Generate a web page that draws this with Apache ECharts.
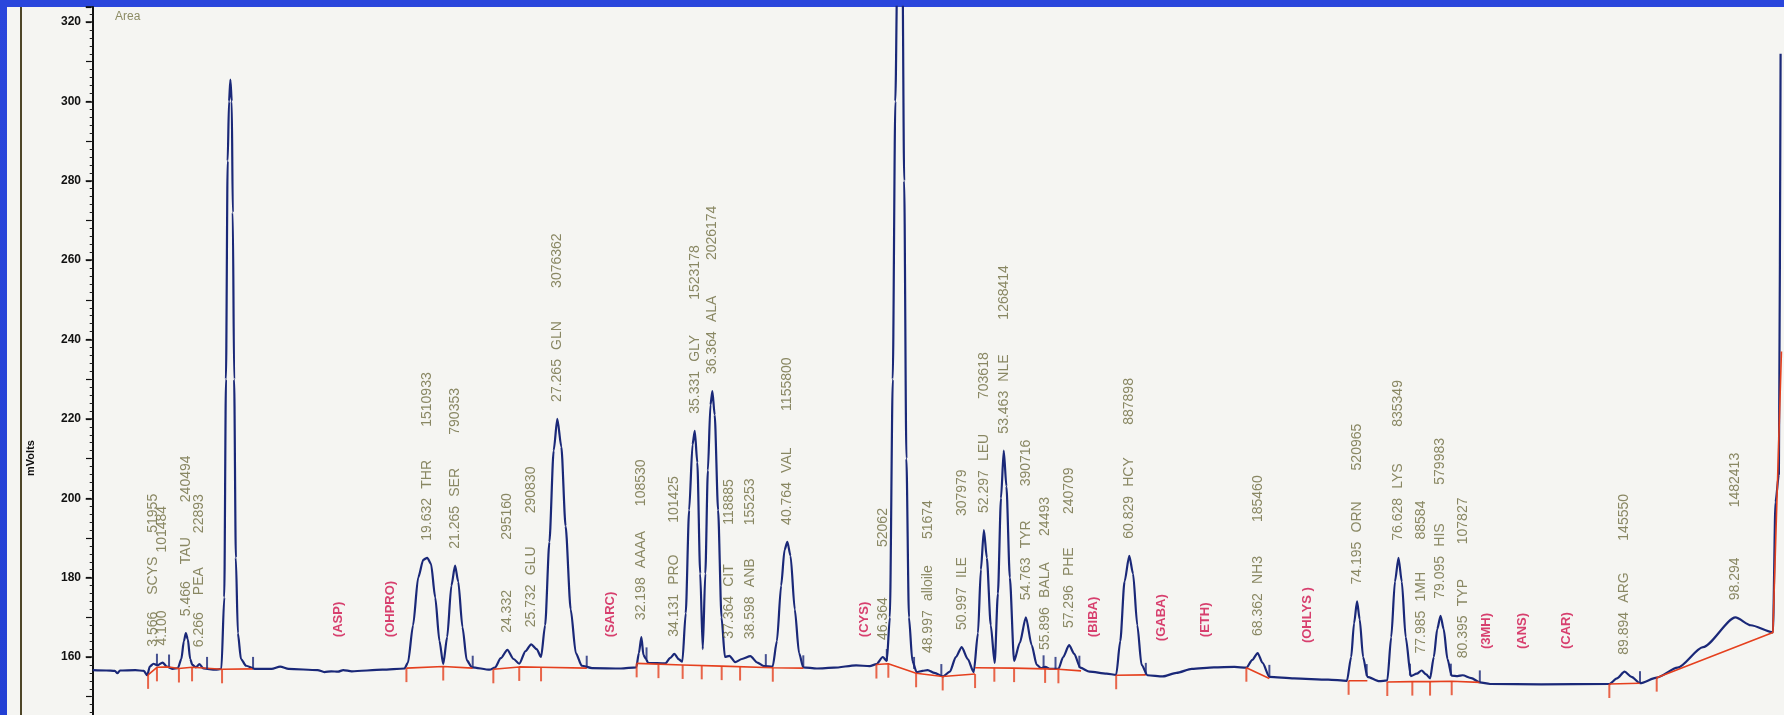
<!DOCTYPE html>
<html>
<head>
<meta charset="utf-8">
<script src="https://cdn.jsdelivr.net/npm/echarts@6/dist/echarts.min.js"></script>
<style>
  html, body { margin: 0; padding: 0; background: #2b44d9; overflow: hidden; }
  #page { position: relative; width: 1784px; height: 715px; background: linear-gradient(180deg, #2a46dc 0%, #2340d4 100%); }
  #paper { position: absolute; left: 7px; top: 7px; width: 1777px; height: 708px; background: #f5f5f2; }
  #chart { position: absolute; left: 0; top: 0; width: 1784px; height: 715px; }
</style>
</head>
<body>
<div id="page"><div id="paper"></div><div id="chart"></div></div>
<script>
// Amino acid chromatogram: retention time (min) vs detector signal (mVolts)

// Detector trace [time, mV]
const trace = [
  [0, 156.7], [0.8, 156.6], [1.3, 156.5], [1.45, 155.9], [1.6, 156.6], [2.5, 156.7], [3.0, 156.5],
  [3.2, 155.4], [3.35, 157.6], [3.566, 158.3], [3.8, 157.9], [4.1, 158.6], [4.35, 157.6], [4.7, 157.0], [5.0, 157.2],
  [5.2, 159.5], [5.35, 164], [5.466, 166], [5.58, 164.5], [5.72, 159.5], [5.85, 158], [6.05, 157.4], [6.266, 158.2],
  [6.5, 157.1], [7.2, 156.8], [7.55, 157.0],
  [7.72, 175], [7.82, 230], [7.92, 285], [8.0, 300], [8.08, 305.5], [8.16, 300], [8.22, 272], [8.3, 230],
  [8.4, 185], [8.52, 166], [8.7, 159.5], [9.0, 157.8], [9.5, 157.0],
  [10.5, 157.0], [11.0, 157.6], [11.5, 157.0], [13.2, 156.7], [13.6, 156.2], [14.0, 156.4], [14.4, 156.3],
  [14.7, 156.7], [15.2, 156.4], [17.0, 156.8], [18.3, 157.1],
  [18.5, 158.6], [18.8, 168], [19.1, 180], [19.4, 184.5], [19.632, 185], [19.85, 183.5], [20.1, 175],
  [20.35, 164], [20.57, 158.2],
  [20.8, 165], [21.05, 178], [21.265, 183], [21.45, 179], [21.7, 167.5], [21.95, 159.2], [22.25, 157.4], [23.3, 156.8],
  [23.6, 157.3], [23.95, 159.7], [24.332, 161.8], [24.7, 159.5], [25.03, 158.3], [25.4, 161.5], [25.732, 163.2],
  [26.05, 162], [26.31, 160],
  [26.55, 168], [26.8, 189], [27.05, 212], [27.265, 220], [27.5, 213], [27.75, 193], [28.05, 172], [28.35, 161],
  [28.7, 157.8], [29.3, 157.2], [31.0, 157.1], [31.9, 157.4],
  [32.05, 161], [32.198, 165], [32.32, 160.5], [32.45, 159.6], [32.6, 158.5], [33.6, 158.4], [33.9, 159.8],
  [34.131, 160.8], [34.4, 159.4], [34.6, 158.8],
  [34.8, 171], [35.0, 197], [35.2, 213.5], [35.331, 217], [35.48, 209], [35.65, 181], [35.8, 162],
  [35.95, 181], [36.1, 207], [36.25, 223.5], [36.364, 227], [36.5, 221], [36.7, 197], [36.9, 170], [37.1, 160],
  [37.364, 160.3], [37.7, 158.7], [38.1, 159.5], [38.598, 160.2], [39.0, 158.6], [39.4, 157.7], [39.9, 157.6],
  [40.15, 164], [40.4, 178], [40.6, 187], [40.764, 189], [40.95, 185.5], [41.2, 172], [41.45, 161], [41.7, 157.4],
  [42.5, 157.1], [43.5, 157.3], [44.8, 157.9], [45.6, 157.7], [45.99, 158.2], [46.364, 160], [46.6, 159],
  [46.78, 170], [46.95, 230], [47.1, 300], [47.25, 345], [47.5, 345], [47.62, 280], [47.75, 210], [47.9, 170],
  [48.1, 159], [48.35, 156.2], [48.7, 156.5], [48.997, 156.7], [49.4, 156.0], [49.9, 155.1],
  [50.3, 156.3], [50.65, 160], [50.997, 162.5], [51.35, 159.5], [51.7, 156.2],
  [51.95, 166], [52.12, 182], [52.297, 192], [52.47, 185], [52.7, 168], [52.93, 158.5],
  [53.12, 176], [53.3, 200], [53.463, 212], [53.62, 203], [53.82, 180], [54.07, 159],
  [54.4, 163.5], [54.763, 170], [55.1, 163], [55.4, 158], [55.65, 157.2], [55.896, 157.5], [56.2, 157.0], [56.67, 157.0],
  [56.95, 160], [57.296, 163], [57.6, 160.8], [57.95, 157.3], [58.5, 156.3], [59.5, 155.8], [60.06, 155.5],
  [60.3, 164], [60.55, 179], [60.829, 185.5], [61.05, 181], [61.3, 168], [61.55, 158], [61.9, 155.4],
  [62.8, 155.1], [63.6, 156.0], [64.5, 157.0], [65.8, 157.4], [67.0, 157.5], [67.7, 157.3],
  [68.05, 159.3], [68.362, 161], [68.65, 158.5], [69.05, 155.0], [70.5, 154.6], [72.5, 154.3], [73.6, 154.0],
  [73.85, 160], [74.02, 168.5], [74.195, 174], [74.35, 169.5], [74.55, 160], [74.8, 155], [75.5, 153.9], [75.97, 154.1],
  [76.2, 165], [76.42, 179], [76.628, 185], [76.82, 179], [77.05, 165], [77.35, 155.2],
  [77.7, 155.8], [77.985, 156.6], [78.25, 155.6], [78.48, 154.6],
  [78.7, 160], [78.9, 167], [79.095, 170.4], [79.28, 167], [79.5, 159.5], [79.75, 155.3],
  [80.1, 155.2], [80.395, 155.4], [80.9, 154.7], [81.4, 153.6], [82.0, 153.2], [85.0, 153.1], [89.0, 153.2],
  [89.45, 154.6], [89.894, 156.3], [90.3, 155.0], [90.8, 153.4], [91.78, 154.8],
  [93.0, 157.3], [94.5, 162.5], [96.4, 170], [97.3, 168], [98.6, 166.2], [98.75, 199], [98.95, 206], [99.05, 312]
];

// Integration baselines [time, mV]
const baselineSegments = [
  [[3.25, 155.5], [3.77, 157.4], [4.48, 157.5], [5.06, 157.1], [5.83, 157.4], [7.59, 156.9], [9.4, 157.0]],
  [[18.41, 157.2], [20.57, 157.6], [22.3, 157.2]],
  [[23.51, 156.9], [25.03, 157.5], [26.31, 157.4], [29.0, 157.2]],
  [[31.92, 158.4], [34.62, 158.0], [36.91, 157.7], [39.91, 157.3], [41.7, 157.2]],
  [[45.99, 158.1], [46.69, 158.3], [48.32, 155.9], [49.88, 155.1], [51.78, 155.7]],
  [[51.78, 157.3], [54.07, 157.2], [55.89, 157.0], [56.67, 156.9], [58.0, 156.5]],
  [[60.06, 155.4], [61.8, 155.5]],
  [[67.7, 157.3], [69.05, 154.6]],
  [[73.7, 154.0], [74.8, 154.0]],
  [[75.97, 153.7], [77.44, 153.8], [78.48, 153.8], [79.75, 153.9], [81.4, 153.6]],
  [[89.0, 153.2], [90.8, 153.4]],
  [[91.78, 154.8], [98.6, 166.2], [99.1, 237]]
];

// Peak start marks (drawn below the baseline)
const startMarks = [
  [3.25, 155.5], [3.77, 157.4], [5.06, 157.1], [5.83, 157.4], [7.59, 156.9], [18.41, 157.2], [20.57, 157.6],
  [23.51, 156.9], [25.03, 157.5], [26.31, 157.4], [31.92, 158.4], [33.2, 158.2], [34.62, 158.0], [35.74, 157.9],
  [36.91, 157.7], [37.99, 157.6], [39.91, 157.3], [45.99, 158.1], [46.69, 158.3], [48.32, 155.9], [49.88, 155.1],
  [51.78, 155.7], [52.91, 157.3], [54.07, 157.2], [55.89, 157.0], [56.67, 156.9], [60.06, 155.4], [67.7, 157.3],
  [73.7, 154.0], [75.97, 153.7], [77.44, 153.8], [78.48, 153.8], [79.75, 153.9], [89.0, 153.2], [91.78, 154.8]
];

// Peak end marks (drawn above the trace)
const endMarks = [
  [3.77, 157.8], [4.48, 157.6], [6.71, 157.0], [9.41, 157.0], [22.3, 157.3], [28.99, 157.3], [32.5, 159.4],
  [39.5, 157.7], [41.7, 157.4], [46.6, 159.0], [48.2, 157.0], [49.8, 155.2], [55.8, 157.4], [56.5, 157.0],
  [57.9, 157.3], [61.8, 155.5], [69.05, 155.0], [74.76, 155.2], [77.3, 155.3], [79.7, 155.3], [81.4, 153.6],
  [90.8, 153.4]
];

// Identified peaks: retention time, name, area, apex height (mV)
const peakTimes = [3.566, 4.100, 5.466, 6.266, 19.632, 21.265, 24.332, 25.732, 27.265, 32.198, 34.131, 35.331,
  36.364, 37.364, 38.598, 40.764, 46.364, 48.997, 50.997, 52.297, 53.463, 54.763, 55.896, 57.296, 60.829,
  68.362, 74.195, 76.628, 77.985, 79.095, 80.395, 89.894, 98.294];
const peakNames = ['SCYS', '', 'TAU', 'PEA', 'THR', 'SER', '', 'GLU', 'GLN', 'AAAA', 'PRO', 'GLY',
  'ALA', 'CIT', 'ANB', 'VAL', '', 'alloile', 'ILE', 'LEU', 'NLE', 'TYR', 'BALA', 'PHE', 'HCY',
  'NH3', 'ORN', 'LYS', '1MH', 'HIS', 'TYP', 'ARG', ''];
const peakAreas = ['51955', '101484', '240494', '22893', '1510933', '790353', '295160', '290830', '3076362',
  '108530', '101425', '1523178', '2026174', '118885', '155253', '1155800', '52062', '51674', '307979',
  '703618', '1268414', '390716', '24493', '240709', '887898', '185460', '520965', '835349', '88584',
  '579983', '107827', '145550', '1482413'];
const apexTimes = [3.566, 4.100, 5.466, 6.266, 19.632, 21.265, 24.332, 25.732, 27.265, 32.198, 34.131, 35.331,
  36.364, 37.364, 38.598, 40.764, 46.364, 48.997, 50.997, 52.297, 53.463, 54.763, 55.896, 57.296, 60.829,
  68.362, 74.195, 76.628, 77.985, 79.095, 80.395, 89.894, 96.4];
const apexHeights = [158.3, 158.6, 166, 158.2, 185, 183, 161.8, 163.2, 220, 165, 160.8, 217,
  227, 160.3, 160.2, 189, 160, 156.7, 162.5, 192, 212, 170, 157.5, 163, 185.5,
  161, 174, 185, 156.6, 170.4, 155.4, 156.3, 170];

// Expected but absent components
const missingNames = ['(ASP)', '(OHPRO)', '(SARC)', '(CYS)', '(BIBA)', '(GABA)', '(ETH)', '(OHLYS )', '(3MH)', '(ANS)', '(CAR)'];
const missingTimes = [14.4, 17.45, 30.4, 45.3, 58.7, 62.7, 65.3, 71.3, 81.8, 83.9, 86.5];
const missingLevel = [165, 165, 165, 165, 165, 164, 165, 163.5, 162, 162, 162];

// Signal axis
const yMin = 140, yMax = 323.8, yStep = 20, yLabelTop = 320;
// Time axis
const tMin = -0.1, tMax = 99.25;

const chart = echarts.init(document.getElementById('chart'), null, { renderer: 'canvas' });

const traceColor = '#1a2878';
const baseColor = '#e5401e';
const labelColor = '#6e6c3e';
const missingColor = '#d0124c';
const labelFont = 'Liberation Sans, Arial, sans-serif';

const series = [];

series.push({
  type: 'line', name: 'signal', data: trace, showSymbol: false, symbol: 'none',
  smooth: 0.25, smoothMonotone: 'x', clip: true, z: 3,
  lineStyle: { color: traceColor, width: 2.2 }
});

baselineSegments.forEach(seg => {
  series.push({
    type: 'line', data: seg, showSymbol: false, symbol: 'none', clip: true, z: 4,
    lineStyle: { color: baseColor, width: 1.6 }
  });
});

series.push({
  type: 'scatter', data: startMarks, symbol: 'rect', symbolSize: [2, 14], symbolOffset: [0, 7], z: 4,
  itemStyle: { color: baseColor }
});
series.push({
  type: 'scatter', data: endMarks, symbol: 'rect', symbolSize: [2, 12], symbolOffset: [0, -6], z: 4,
  itemStyle: { color: traceColor }
});

const richBase = { color: labelColor, fontSize: 14, fontFamily: labelFont };
series.push({
  type: 'scatter', z: 5, symbolSize: 0, silent: true,
  data: peakTimes.map((t, i) => ({
    value: [apexTimes[i], apexHeights[i]],
    time: t.toFixed(3), pname: peakNames[i], area: peakAreas[i]
  })),
  itemStyle: { color: 'transparent' },
  label: {
    show: true, position: 'top', distance: 17, rotate: 90, align: 'left', verticalAlign: 'middle',
    color: labelColor, fontFamily: labelFont, fontSize: 14,
    formatter: p => '{t|' + p.data.time + '}' +
      (p.data.pname ? '{n|' + p.data.pname + '}' : '{g|}') + '{a|' + p.data.area + '}',
    rich: {
      t: Object.assign({ width: 52 }, richBase),
      n: Object.assign({ width: 62 }, richBase),
      g: Object.assign({ width: 41 }, richBase),
      a: Object.assign({}, richBase)
    }
  }
});

series.push({
  type: 'scatter', z: 5, symbolSize: 0, silent: true,
  data: missingNames.map((n, i) => ({ value: [missingTimes[i], missingLevel[i]], name: n })),
  itemStyle: { color: 'transparent' },
  label: {
    show: true, position: 'top', distance: 0, rotate: 90, align: 'left', verticalAlign: 'middle',
    color: missingColor, fontWeight: 'bold', fontSize: 13, fontFamily: labelFont,
    formatter: p => p.name
  }
});

const pxPerUnit = (657 - 22) / (yLabelTop - 160); // 320 at y=22, 160 at y=657
const gridTop = 22 - (yMax - yLabelTop) * pxPerUnit;
const gridHeight = (yMax - yMin) * pxPerUnit;

chart.setOption({
  backgroundColor: 'transparent',
  animation: false,
  grid: { left: 91, right: 0, top: gridTop, bottom: 715 - gridTop - gridHeight, containLabel: false, outerBoundsMode: 'none' },
  xAxis: { type: 'value', min: tMin, max: tMax, show: false },
  yAxis: [
    {
      type: 'value', position: 'left', min: yMin, max: yMax, interval: yStep,
      axisLine: { show: true, lineStyle: { color: '#111', width: 2 } },
      axisTick: { show: true, length: 7, lineStyle: { color: '#111', width: 1.5 } },
      minorTick: { show: true, splitNumber: 10, length: 3, lineStyle: { color: '#222', width: 1 } },
      splitLine: { show: false },
      axisLabel: {
        margin: 10, color: '#111', fontWeight: 'bold', fontSize: 12,
        fontFamily: 'Liberation Sans Narrow, Liberation Sans, Arial, sans-serif',
        showMaxLabel: false, showMinLabel: false,
        formatter: v => (v % yStep === 0 && v <= yLabelTop && v > yMin) ? String(v) : ''
      }
    },
    {
      type: 'value', position: 'left', offset: 0, min: yMin, max: yMax, interval: yStep / 2,
      axisLine: { show: false }, splitLine: { show: false }, axisLabel: { show: false },
      axisTick: { show: true, length: 5, lineStyle: { color: '#111', width: 1.2 } }
    }
  ],
  graphic: [
    { type: 'line', shape: { x1: 21, y1: 7, x2: 21, y2: 715 }, style: { stroke: '#4e4628', lineWidth: 2 }, z: 10 },
    { type: 'text', x: 115, y: 11, style: { text: 'Area', fill: '#8d8c64', font: '12px Liberation Sans, Arial, sans-serif' }, z: 10 },
    { type: 'text', x: 31, y: 458, rotation: Math.PI / 2,
      style: { text: 'mVolts', fill: '#111', font: 'bold 11px Liberation Sans Narrow, Liberation Sans, Arial, sans-serif', align: 'center', verticalAlign: 'middle' }, z: 10 }
  ],
  series: series
});
</script>
</body>
</html>
